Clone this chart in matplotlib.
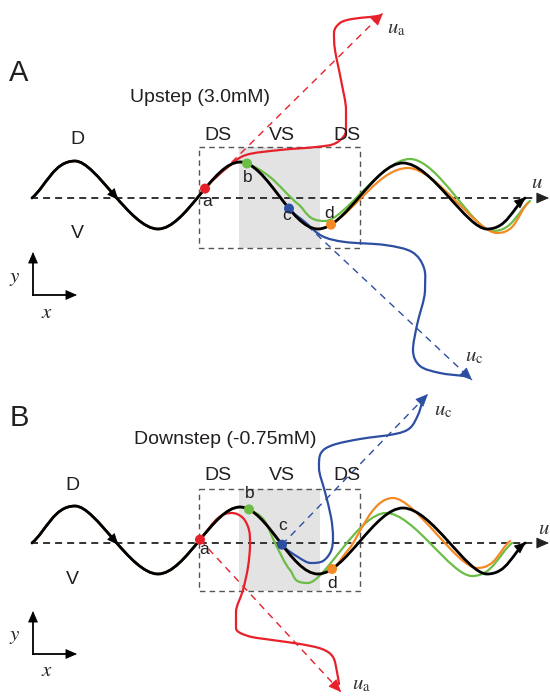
import numpy as np
import matplotlib
matplotlib.use('Agg')
import matplotlib.pyplot as plt
from matplotlib.path import Path
from matplotlib.patches import PathPatch, Rectangle, FancyArrowPatch

plt.rcParams['font.family'] = ['Liberation Sans', 'DejaVu Sans']
plt.rcParams['mathtext.fontset'] = 'stix'

# ---------------- data ----------------
PANEL_LETTERS = ['A', 'B']
PANEL_TITLES = ['Upstep (3.0mM)', 'Downstep (-0.75mM)']
AXIS_Y = [198, 543]                 # baseline (u axis) of each panel
REGION_LABELS = ['DS', 'VS', 'DS']
REGION_X = [218, 282, 347]
REGION_Y = [135, 476]
BOX_X = [199, 360]
BOX_Y = [(147, 248), (489, 591)]
VS_X = [239, 320]

# control trajectory (black): knots, x and offset from u axis
BLACK_X = [32, 75, 158, 240, 318, 403, 487, 525]
BLACK_DY = [0, -37, 31, -36, 31, -35, 31, 0]

POINT_NAMES = ['a', 'b', 'c', 'd']
A_POINT_X = [205, 247, 289, 331]
B_POINT_X = [200, 249, 282, 332]
A_LABEL_XY = [(207, 201), (248, 178), (287, 216), (329, 213)]
B_LABEL_XY = [(204, 549), (250, 494), (283, 525), (332, 583)]

# perturbed trajectories after their point (knots)
A_RED_X = [228, 246, 280, 316, 336, 346, 346, 341, 335, 334, 340, 352, 370, 378]
A_RED_Y = [167, 155, 150, 147, 143, 130, 110, 80, 50, 33, 23, 19, 17, 16]
A_GREEN_X = [270, 298, 325, 410, 493, 530]
A_GREEN_Y = [177, 204, 221, 159, 231, 201]
A_BLUE_X = [305, 322, 345, 385, 412, 424, 425, 417, 413, 420, 440, 464]
A_BLUE_Y = [222, 236, 242, 245, 252, 268, 290, 325, 350, 366, 373, 376]
A_ORANGE_X = [408, 497, 528]
A_ORANGE_Y = [168, 233, 203]

B_RED_X = [218, 232, 243, 249, 250, 248, 243, 236, 236, 248, 272, 300, 322, 333, 337, 339]
B_RED_Y = [518, 513, 518, 530, 545, 567, 590, 612, 628, 636, 640, 644, 649, 657, 672, 684]
B_GREEN_X = [264, 276, 290, 308, 386, 472, 512]
B_GREEN_Y = [520, 545, 570, 583, 513, 576, 543]
B_BLUE_X = [298, 311, 323, 331, 333, 331, 325, 319, 321, 333, 360, 395, 410, 418, 422]
B_BLUE_Y = [557, 563, 561, 551, 537, 517, 492, 468, 453, 445, 439, 434, 428, 415, 403]
B_ORANGE_X = [349, 393, 477, 510]
B_ORANGE_Y = [549, 498, 568, 541]

A_TIPS = {'a': (383, 13), 'c': (472, 380)}
B_TIPS = {'a': (341, 692), 'c': (428, 394)}
A_U_LABELS = {'a': (396, 29), 'c': (474, 357)}
B_U_LABELS = {'a': (361, 685), 'c': (443, 411)}

RED, GREEN, BLUE, ORANGE = '#e8202a', '#6cbd45', '#2d4fa2', '#f48a23'
POINT_COLORS = [RED, GREEN, BLUE, ORANGE]
TXT = '#231f20'


# ---------------- helpers ----------------
def tangents(P):
    n = len(P)
    T = np.zeros_like(P)
    T[0] = P[1] - P[0]
    T[-1] = P[-1] - P[-2]
    for i in range(1, n - 1):
        t = 0.5 * (P[i + 1] - P[i - 1])
        for k in range(2):
            if (P[i, k] - P[i - 1, k]) * (P[i + 1, k] - P[i, k]) <= 0:
                t[k] = 0.0
        T[i] = t
    return T


def segs(P, T):
    return [np.array([P[i], P[i] + T[i] / 3, P[i + 1] - T[i + 1] / 3, P[i + 1]])
            for i in range(len(P) - 1)]


def to_path(S):
    verts = [S[0][0]]
    codes = [Path.MOVETO]
    for s in S:
        verts += [s[1], s[2], s[3]]
        codes += [Path.CURVE4] * 3
    return Path(np.array(verts), codes)


def bez(s, t):
    return ((1 - t) ** 3 * s[0] + 3 * (1 - t) ** 2 * t * s[1]
            + 3 * (1 - t) * t ** 2 * s[2] + t ** 3 * s[3])


def bez_d(s, t):
    return 3 * ((1 - t) ** 2 * (s[1] - s[0]) + 2 * (1 - t) * t * (s[2] - s[1])
                + t ** 2 * (s[3] - s[2]))


def split(s, t):
    a, b, c, d = s
    ab = a + (b - a) * t; bc = b + (c - b) * t; cd = c + (d - c) * t
    abc = ab + (bc - ab) * t; bcd = bc + (cd - bc) * t
    p = abc + (bcd - abc) * t
    return np.array([a, ab, abc, p]), np.array([p, bcd, cd, d])


def locate(S, x):
    for j, s in enumerate(S):
        if s[0][0] <= x <= s[3][0]:
            lo, hi = 0.0, 1.0
            for _ in range(50):
                m = 0.5 * (lo + hi)
                if bez(s, m)[0] < x:
                    lo = m
                else:
                    hi = m
            return j, 0.5 * (lo + hi)
    raise ValueError


def branch(S, xd, kx, ky):
    j, t = locate(S, xd)
    first, _ = split(S[j], t)
    p = first[3]
    d = bez_d(S[j], t)
    d = d / np.linalg.norm(d)
    P = np.vstack([p, np.column_stack([kx, ky]).astype(float)])
    T = tangents(P)
    T[0] = d * np.linalg.norm(P[1] - P[0])
    return S[:j] + [first] + segs(P, T), p


def head(ax, base, tip, color, ms=10, hl=0.7, hw=0.32, z=6):
    ax.add_patch(FancyArrowPatch(posA=base, posB=tip,
                                 arrowstyle=f'-|>,head_length={hl},head_width={hw}',
                                 mutation_scale=ms, color=color, lw=0.6,
                                 shrinkA=0, shrinkB=0, zorder=z))


# ---------------- figure ----------------
fig = plt.figure(figsize=(5.5, 6.96), dpi=100)
ax = fig.add_axes([0, 0, 1, 1])
ax.set_xlim(0, 550)
ax.set_ylim(696, 0)
ax.axis('off')

panel_data = [
    dict(px=A_POINT_X, lab=A_LABEL_XY, tips=A_TIPS, ul=A_U_LABELS,
         br=[(A_RED_X, A_RED_Y), (A_GREEN_X, A_GREEN_Y), (A_BLUE_X, A_BLUE_Y), (A_ORANGE_X, A_ORANGE_Y)]),
    dict(px=B_POINT_X, lab=B_LABEL_XY, tips=B_TIPS, ul=B_U_LABELS,
         br=[(B_RED_X, B_RED_Y), (B_GREEN_X, B_GREEN_Y), (B_BLUE_X, B_BLUE_Y), (B_ORANGE_X, B_ORANGE_Y)]),
]

for pi, pdat in enumerate(panel_data):
    y0 = AXIS_Y[pi]
    # letter and title
    ax.text(19, y0 - 125, PANEL_LETTERS[pi], fontsize=21, color=TXT, ha='center', va='center')
    ax.text([200, 225][pi], [98, 439][pi], PANEL_TITLES[pi], fontsize=14, color=TXT,
            ha='center', va='center')
    # region box and shading
    by0, by1 = BOX_Y[pi]
    ax.add_patch(Rectangle((VS_X[0], by0), VS_X[1] - VS_X[0], by1 - by0,
                           facecolor='#e3e3e3', edgecolor='none', zorder=0))
    ax.add_patch(Rectangle((BOX_X[0], by0), BOX_X[1] - BOX_X[0], by1 - by0,
                           facecolor='none', edgecolor='#555555', lw=1.0,
                           linestyle=(0, (4, 3)), zorder=1))
    for lab, rx in zip(REGION_LABELS, REGION_X):
        ax.text(rx, REGION_Y[pi], lab, fontsize=14, color=TXT, ha='center', va='center')
    ax.text([77, 72][pi], y0 - 58, 'D', fontsize=14, color=TXT, ha='center', va='center')
    ax.text([77, 72][pi], y0 + 36, 'V', fontsize=14, color=TXT, ha='center', va='center')
    # u axis
    ax.plot([31, 541], [y0, y0], color='#333333', lw=1.4, linestyle=(0, (3.6, 2.6)), zorder=1)
    head(ax, (538, y0), (549, y0), '#222222', ms=10, hl=0.8, hw=0.35)
    ax.text([537, 544][pi], y0 - 15, r'$u$', fontsize=15, color='#333333', ha='center', va='center')

    # black trajectory
    P = np.column_stack([BLACK_X, np.array(BLACK_DY) + y0]).astype(float)
    S = segs(P, tangents(P))

    # coloured trajectories
    pts = []
    for k, (kx, ky) in enumerate(pdat['br']):
        Sb, p = branch(S, pdat['px'][k], kx, ky)
        pts.append(p)
        ax.add_patch(PathPatch(to_path(Sb), facecolor='none', edgecolor=POINT_COLORS[k],
                               lw=1.6, zorder=2, capstyle='round', joinstyle='round'))
    ax.add_patch(PathPatch(to_path(S), facecolor='none', edgecolor='black', lw=2.0,
                           zorder=3, capstyle='round'))
    # mid arrow on black wave
    j, t = locate(S, 117)
    pm = bez(S[j], t)
    dm = bez_d(S[j], t); dm = dm / np.linalg.norm(dm)
    head(ax, pm - dm * 7, pm + dm * 2, 'black', ms=9, hl=0.8, hw=0.35, z=4)
    # end arrow
    de = bez_d(S[-1], 1.0); de = de / np.linalg.norm(de)
    head(ax, P[-1] - de * 8, P[-1] + de * 1, 'black', ms=9, hl=0.8, hw=0.35, z=4)

    # dashed guide arrows + arrowheads for a and c
    for name, col, idx in [('a', RED, 0), ('c', BLUE, 2)]:
        tip = np.array(pdat['tips'][name], float)
        p = pts[idx]
        ax.plot([p[0], tip[0]], [p[1], tip[1]], color=col, lw=1.0,
                linestyle=(0, (5, 4)), zorder=2)
        dv = (tip - p) / np.linalg.norm(tip - p)
        head(ax, tip - dv * 9, tip, col, ms=10, hl=0.8, hw=0.35)
        ux, uy = pdat['ul'][name]
        ax.text(ux, uy, r'$u_{\mathrm{%s}}$' % name, fontsize=15, color='#333333',
                ha='center', va='center')

    # points and labels
    for k in range(4):
        ax.scatter([pts[k][0]], [pts[k][1]], s=52, color=POINT_COLORS[k], zorder=5,
                   edgecolors='none')
        lx, ly = pdat['lab'][k]
        ax.text(lx, ly, POINT_NAMES[k], fontsize=12.5, color=TXT, ha='center', va='center',
                zorder=6)

    # small coordinate frame
    cy = [295, 654][pi]
    ax.plot([33, 33], [cy, cy - 34], color='black', lw=1.3, zorder=3)
    ax.plot([33, 68], [cy, cy], color='black', lw=1.3, zorder=3)
    head(ax, (33, cy - 32), (33, cy - 43), 'black', ms=9, hl=0.8, hw=0.35)
    head(ax, (66, cy), (77, cy), 'black', ms=9, hl=0.8, hw=0.35)
    ax.text(15, cy - 17, r'$y$', fontsize=15, color=TXT, ha='center', va='center')
    ax.text(47, cy + 17, r'$x$', fontsize=15, color=TXT, ha='center', va='center')

fig.savefig('out.png', dpi=100)
